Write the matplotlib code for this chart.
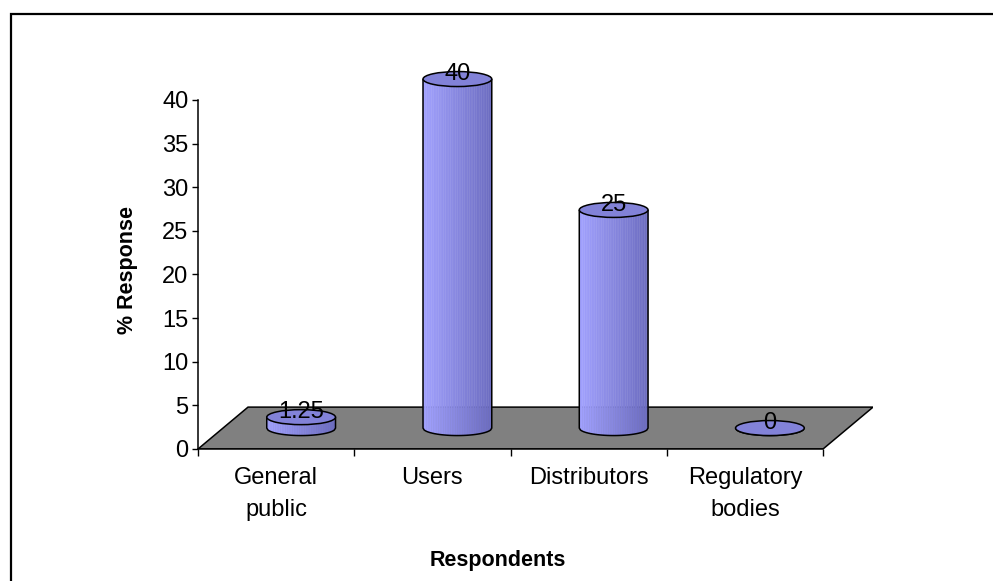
import numpy as np
import matplotlib.pyplot as plt
from matplotlib.patches import Polygon, Ellipse, Rectangle
from matplotlib.path import Path
from matplotlib.patches import PathPatch

plt.rcParams['font.family'] = ['Liberation Sans', 'DejaVu Sans']

categories = ["General\npublic", "Users", "Distributors", "Regulatory\nbodies"]
response = [1.25, 40, 25, 0]
y_ticks = [0, 5, 10, 15, 20, 25, 30, 35, 40]

# floor depth (x in category units, y in value units)
DX = 0.32
DY = 4.8
RADIUS = 0.22
SEMI = 0.86

LIGHT = np.array([162, 162, 255]) / 255
DARK = np.array([108, 108, 192]) / 255
TOP = '#8282D8'


def draw_cylinder(ax, cx, base, value, n_strips=40):
    """Draws one shaded cylinder standing on the floor"""
    top = base + value
    edges = np.linspace(cx - RADIUS, cx + RADIUS, n_strips + 1)

    def lower(x):
        t = np.clip((x - cx) / RADIUS, -1, 1)
        return base - SEMI * np.sqrt(1 - t ** 2)

    for k in range(n_strips):
        xa, xb = edges[k], edges[k + 1]
        frac = (k + 0.5) / n_strips
        col = LIGHT + (DARK - LIGHT) * frac
        ax.add_patch(Polygon([(xa, lower(xa)), (xb, lower(xb)), (xb, top), (xa, top)],
                             closed=True, facecolor=col, edgecolor=col, lw=0.3, zorder=3))

    # outline of the body
    xs = np.linspace(cx - RADIUS, cx + RADIUS, 60)
    verts = [(cx - RADIUS, top)] + list(zip(xs, lower(xs))) + [(cx + RADIUS, top)]
    ax.add_patch(PathPatch(Path(verts), facecolor='none', edgecolor='black', lw=1.1, zorder=4))
    ax.add_patch(Ellipse((cx, top), 2 * RADIUS, 2 * SEMI, facecolor=TOP,
                         edgecolor='black', lw=1.1, zorder=5))
    return top


fig = plt.figure(figsize=(9.93, 5.81), dpi=100)
ax = fig.add_axes([0.1994, 0.2272, 0.6798, 0.6758])
n = len(categories)
ax.set_xlim(0, n + DX)
ax.set_ylim(0, 45)

# gray floor
ax.add_patch(Polygon([(0, 0), (n, 0), (n + DX, DY), (DX, DY)], closed=True,
                     facecolor='#808080', edgecolor='black', lw=1.1, zorder=1))

for i, v in enumerate(response):
    cx = i + 0.5 + DX / 2
    top = draw_cylinder(ax, cx, DY / 2, v)
    ax.text(cx, top + 0.55, '{:g}'.format(v), ha='center', va='center',
            fontsize=17, zorder=6)

for side in ['top', 'right']:
    ax.spines[side].set_visible(False)
ax.spines['left'].set_bounds(0, 40)
ax.spines['bottom'].set_bounds(0, n)
ax.spines['left'].set_linewidth(1.1)
ax.spines['bottom'].set_linewidth(1.1)

ax.set_yticks(y_ticks)
ax.tick_params(axis='y', direction='out', length=4, width=1, labelsize=17, pad=3)
ax.set_xticks(np.arange(n + 1))
ax.set_xticklabels([])
ax.tick_params(axis='x', which='major', direction='out', length=5, width=1)
ax.set_xticks(np.arange(n) + 0.5, minor=True)
ax.set_xticklabels(categories, minor=True, fontsize=17, linespacing=1.6)
ax.tick_params(axis='x', which='minor', length=0, pad=13)

ax.set_ylabel('% Response', fontsize=15.5, fontweight='bold')
ax.yaxis.set_label_coords(-0.089, 0.456)
ax.set_xlabel('Respondents', fontsize=15.5, fontweight='bold')
ax.xaxis.set_label_coords(0.444, -0.283)
ax.xaxis.label.set_va('center')

# chart area border
fig.add_artist(Rectangle((10.5 / 993, -0.1), 1.2, 1.1 - 14.5 / 581,
                         transform=fig.transFigure, facecolor='none',
                         edgecolor='black', lw=1.6))

fig.savefig('out.png', dpi=100)
